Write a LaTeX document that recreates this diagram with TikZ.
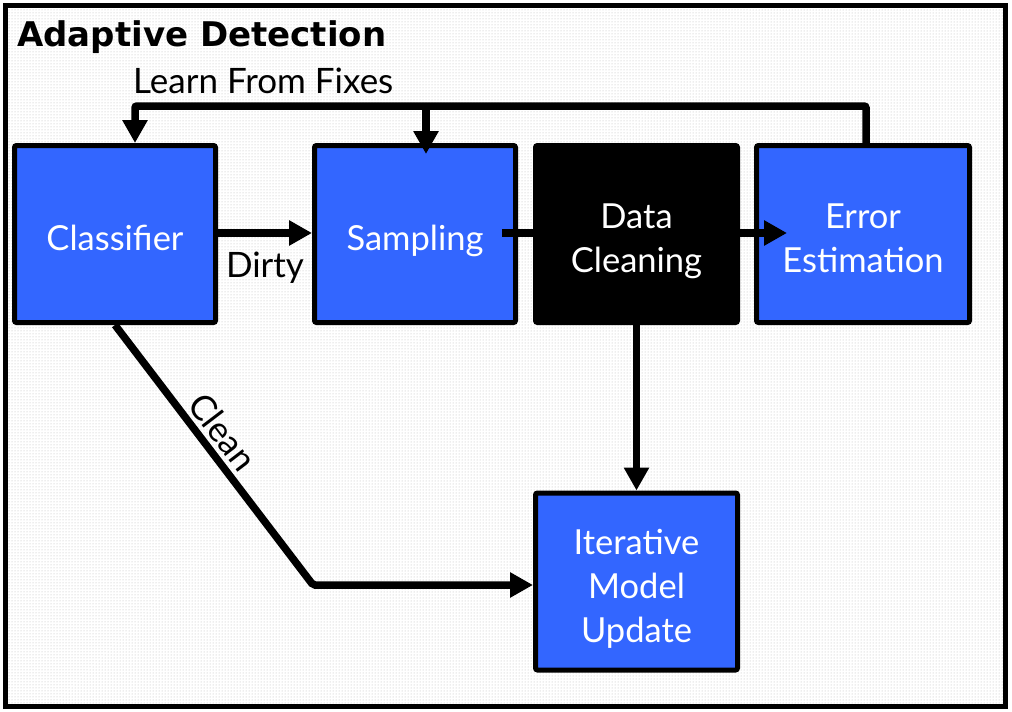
\documentclass[tikz,border=0pt]{standalone}
\usepackage{fontspec}
\setmainfont{Lato}
\newfontfamily\titlefont{DejaVu Sans}
\usetikzlibrary{arrows.meta,patterns}
\definecolor{boxblue}{RGB}{51,102,255}
\newcommand{\boxtopstrut}{\rule{0pt}{40pt}}
\begin{document}
\begin{tikzpicture}[x=1pt,y=-1pt,
  box/.style={draw=black,line width=5pt,rounded corners=2pt,fill=boxblue,text=white,
    font=\fontsize{34.5}{44}\selectfont,align=center,inner sep=0pt,
    execute at begin node={\boxtopstrut},
    execute at end node={\rule[-7pt]{0pt}{7pt}}},
  conn/.style={line width=7.5pt,rounded corners=2pt},
  arr/.style={conn,-{Triangle[length=23pt,width=24pt]}},
  lbl/.style={font=\fontsize{35}{40}\selectfont,inner sep=0pt}]
\useasboundingbox (0,0) rectangle (1012,712);
% background frame
\fill[white] (5.5,5.5) rectangle (1005.5,706.5);
\fill[pattern=dots,pattern color=gray!55] (5.5,5.5) rectangle (1005.5,706.5);
\draw[line width=5pt] (5.5,5.5) rectangle (1005.5,706.5);
% title
\node[anchor=base west,inner sep=0pt,font=\titlefont\bfseries\fontsize{34}{38}\selectfont] (title) at (17,46) {Adaptive Detection};
\node[lbl,anchor=base west] (learn) at (133,93) {Learn From Fixes};
% boxes
\node[box,minimum width=201pt,minimum height=177pt] (classifier) at (115,234) {Classifier};
\node[box,minimum width=201pt,minimum height=177pt] (sampling) at (415,234) {Sampling};
\node[box,minimum width=202pt,minimum height=177pt] (iter) at (636.5,581.5) {\boxtopstrut Iterative\\Model\\Update};
% connectors
\coordinate (fbL) at (135,106);
\coordinate (fbS) at (426,106);
\coordinate (sTip) at (426,154);
\coordinate (sOut) at (502,233);
\coordinate (eTip) at (787,233);
\coordinate (bend) at (313,585);
\draw[arr] (classifier.east |- 0,233) -- (sampling.west |- 0,233);
\draw[conn] (sOut) -- (533,233);
\node[box,fill=black,minimum width=202pt,minimum height=177pt] (cleaning) at (636.5,234) {\boxtopstrut Data\\Cleaning};
\node[box,minimum width=213pt,minimum height=177pt] (error) at (863,234) {\boxtopstrut Error\\Estimation};
\draw[arr] (cleaning.east |- eTip) -- (eTip);
\draw[arr] (error.north -| 866,0) |- (fbL) -- (fbL |- classifier.north);
\draw[arr] (fbS) -- (sTip);
\draw[arr] (cleaning.south) -- (iter.north);
\draw[arr] (classifier.south) -- (bend) -- (bend -| iter.west);
% labels
\node[lbl,anchor=base] (dirty) at (265,277) {Dirty};
\node[lbl,rotate=-52.7] (clean) at (223,432) {Clean};
\end{tikzpicture}
\end{document}
